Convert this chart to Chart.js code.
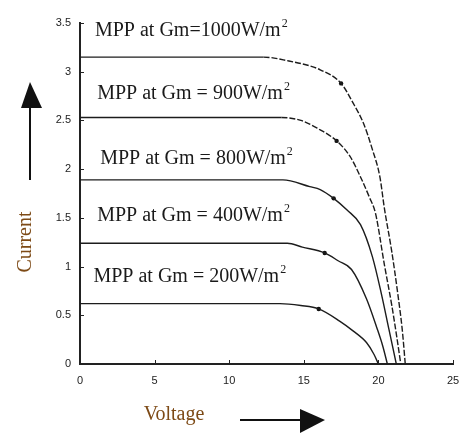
<!DOCTYPE html>
<html>
<head>
<meta charset="utf-8">
<script src="https://cdn.jsdelivr.net/npm/chart.js@4.4.1/dist/chart.umd.min.js"></script>
<style>
  html, body { margin: 0; padding: 0; background: #ffffff; }
  #wrap { width: 463px; height: 433px; }
</style>
</head>
<body>
<div id="wrap"><canvas id="chartIV"></canvas></div>
<script>
// I-V curves of the panel for several irradiance levels
const v1000 = [0, 12.3, 14.0, 15.4, 16.1, 17.5, 18.3, 19.0, 19.6, 20.1, 20.4, 20.9, 21.3, 21.6, 21.8];
const i1000 = [3.15, 3.15, 3.11, 3.06, 3.02, 2.88, 2.68, 2.47, 2.20, 1.92, 1.60, 1.15, 0.72, 0.35, 0];

const v900 = [0, 13.5, 14.8, 15.9, 17.2, 18.1, 18.8, 19.4, 19.8, 20.4, 20.9, 21.2, 21.5];
const i900 = [2.53, 2.53, 2.50, 2.42, 2.29, 2.13, 1.92, 1.71, 1.55, 1.02, 0.60, 0.31, 0];

const v800 = [0, 13.6, 15.4, 16.1, 17.0, 17.9, 18.8, 19.6, 20.2, 20.7, 21.2];
const i800 = [1.89, 1.89, 1.82, 1.79, 1.70, 1.58, 1.43, 1.10, 0.72, 0.36, 0];

const v400 = [0, 13.9, 14.9, 16.4, 17.3, 18.2, 19.2, 19.9, 20.3, 20.6];
const i400 = [1.24, 1.24, 1.20, 1.14, 1.06, 0.97, 0.67, 0.37, 0.18, 0];

const v200 = [0, 13.4, 14.8, 16.0, 17.4, 18.3, 19.2, 19.7, 20.0];
const i200 = [0.62, 0.62, 0.60, 0.565, 0.44, 0.34, 0.22, 0.10, 0];

// maximum power points
const mppV = [17.5, 17.2, 17.0, 16.4, 16.0];
const mppI = [2.88, 2.29, 1.70, 1.14, 0.565];

const labelTexts = ['MPP at Gm=1000W/m', 'MPP at Gm = 900W/m', 'MPP at Gm = 800W/m', 'MPP at Gm = 400W/m', 'MPP at Gm = 200W/m'];
const labelV = [1.0, 1.15, 1.35, 1.15, 0.9];
const labelI = [3.37, 2.72, 2.05, 1.47, 0.84];

const xTicks = [0, 5, 10, 15, 20, 25];
const yTicks = [0, 0.5, 1, 1.5, 2, 2.5, 3, 3.5];

function toPoints(xs, ys) {
    return xs.map((x, k) => ({ x: x, y: ys[k] }));
}

const lineColor = '#1c1c1c';
const serif = '"Liberation Serif", "DejaVu Serif", serif';
const sans = '"Liberation Sans", Arial, sans-serif';

function curve(xs, ys, dashed) {
    return {
        data: toPoints(xs, ys),
        borderColor: lineColor,
        borderWidth: 1.4,
        pointRadius: 0,
        cubicInterpolationMode: 'monotone',
        segment: dashed ? {
            borderDash: ctx => ctx.p0.parsed.x >= 12 ? [6, 2] : undefined
        } : undefined
    };
}

// text labels, inward tick marks and the two arrows
const decorations = {
    id: 'decorations',
    afterDatasetsDraw(chart) {
        const ctx = chart.ctx;
        const xs = chart.scales.x;
        const ys = chart.scales.y;
        const area = chart.chartArea;
        ctx.save();

        // inward tick marks
        ctx.strokeStyle = '#222';
        ctx.lineWidth = 1;
        xTicks.forEach(t => {
            const px = Math.round(xs.getPixelForValue(t)) + 0.5;
            ctx.beginPath();
            ctx.moveTo(px, area.bottom);
            ctx.lineTo(px, area.bottom - 4);
            ctx.stroke();
        });
        yTicks.forEach(t => {
            const py = Math.round(ys.getPixelForValue(t)) + 0.5;
            ctx.beginPath();
            ctx.moveTo(area.left, py);
            ctx.lineTo(area.left + 4, py);
            ctx.stroke();
        });

        // labels
        ctx.fillStyle = '#1a1a1a';
        ctx.textBaseline = 'alphabetic';
        labelTexts.forEach((txt, k) => {
            const px = xs.getPixelForValue(labelV[k]);
            const py = ys.getPixelForValue(labelI[k]);
            ctx.font = '20px ' + serif;
            ctx.fillText(txt, px, py);
            const w = ctx.measureText(txt).width;
            ctx.font = '12px ' + serif;
            ctx.fillText('2', px + w + 1, py - 9);
        });

        // axis titles
        ctx.fillStyle = '#7d4a16';
        ctx.font = '20px ' + serif;
        ctx.textAlign = 'center';
        ctx.fillText('Voltage', area.left + 94, area.bottom + 56);
        ctx.save();
        ctx.translate(area.left - 54, 242);
        ctx.rotate(-Math.PI / 2);
        ctx.textBaseline = 'middle';
        ctx.fillText('Current', 0, 0);
        ctx.restore();

        // up arrow
        ctx.strokeStyle = '#111';
        ctx.fillStyle = '#111';
        ctx.lineWidth = 2;
        const ax = area.left - 50;
        ctx.beginPath();
        ctx.moveTo(ax, 180);
        ctx.lineTo(ax, 104);
        ctx.stroke();
        ctx.beginPath();
        ctx.moveTo(ax, 82);
        ctx.lineTo(ax - 9, 108);
        ctx.lineTo(ax + 12, 108);
        ctx.closePath();
        ctx.fill();

        // right arrow
        const ay = area.bottom + 56;
        ctx.beginPath();
        ctx.moveTo(240, ay);
        ctx.lineTo(302, ay);
        ctx.stroke();
        ctx.beginPath();
        ctx.moveTo(325, ay);
        ctx.lineTo(300, ay - 11);
        ctx.lineTo(300, ay + 13);
        ctx.closePath();
        ctx.fill();

        ctx.restore();
    }
};

const ctxIV = document.getElementById('chartIV').getContext('2d');
const chartIV = new Chart(ctxIV, {
    type: 'line',
    data: {
        datasets: [
            curve(v1000, i1000, true),
            curve(v900, i900, true),
            curve(v800, i800, false),
            curve(v400, i400, false),
            curve(v200, i200, false),
            {
                data: toPoints(mppV, mppI),
                showLine: false,
                pointRadius: 2.2,
                pointBackgroundColor: '#111',
                pointBorderWidth: 0
            }
        ]
    },
    options: {
        responsive: true,
        maintainAspectRatio: false,
        animation: false,
        layout: { padding: { top: 23, right: 10, left: 0, bottom: 0 } },
        plugins: {
            legend: { display: false },
            tooltip: { enabled: false }
        },
        scales: {
            x: {
                type: 'linear',
                min: 0,
                max: 25,
                grid: { display: false },
                border: { color: '#222', width: 2 },
                afterBuildTicks: s => { s.ticks = xTicks.map(v => ({ value: v })); },
                ticks: {
                    color: '#222',
                    font: { family: sans, size: 11 },
                    padding: 2,
                    callback: v => String(v)
                },
                afterFit: s => { s.height = 69; }
            },
            y: {
                min: 0,
                max: 3.5,
                grid: { display: false },
                border: { color: '#222', width: 2 },
                afterBuildTicks: s => { s.ticks = yTicks.map(v => ({ value: v })); },
                ticks: {
                    color: '#222',
                    font: { family: sans, size: 11 },
                    padding: 1,
                    callback: v => String(v)
                },
                afterFit: s => { s.width = 80; }
            }
        }
    },
    plugins: [decorations]
});
</script>
</body>
</html>
